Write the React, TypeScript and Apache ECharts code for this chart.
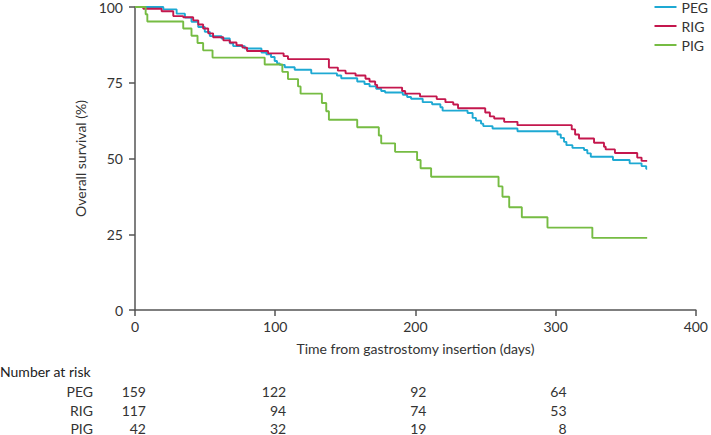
import React, { useEffect, useRef } from "react";
import * as echarts from "echarts";

const seriesNames = ["PEG", "RIG", "PIG"];
const seriesColors = ["#1ea9d3", "#c4174d", "#76bc43"];

const pegData: [number, number][] = [
  [0, 100], [20.2, 99.2], [29.7, 97.8], [35.6, 96.5], [40.3, 95.1], [45.1, 93.4],
  [49.8, 91.8], [53.4, 90.4], [61.7, 89.6], [67.6, 88.0], [70.0, 87.1], [78.3, 86.3],
  [90.2, 85.0], [93.7, 84.4], [97.0, 83.5], [99.6, 82.2], [101.3, 81.4], [103.2, 80.9],
  [106.8, 80.1], [113.9, 79.3], [125.7, 78.1], [144.0, 77.4], [147.1, 76.5], [158.5, 75.4],
  [163.7, 74.6], [167.3, 73.8], [172.0, 73.0], [175.6, 72.3], [178.4, 71.8], [191.0, 71.0],
  [194.1, 70.3], [196.9, 69.7], [205.2, 68.6], [211.9, 67.9], [217.8, 66.9], [219.4, 65.8],
  [237.2, 65.0], [240.8, 63.4], [243.2, 62.5], [246.8, 61.5], [248.4, 60.7], [255.0, 59.9],
  [272.8, 59.0], [301.3, 57.9], [303.7, 56.8], [306.0, 55.5], [307.7, 54.4], [312.0, 53.5],
  [320.3, 52.8], [322.6, 51.7], [325.1, 50.6], [340.9, 49.5], [352.8, 48.4], [361.3, 47.5],
  [364.6, 46.6], [365.3, 46.6],
];

const rigData: [number, number][] = [
  [0, 100], [5.9, 99.4], [19.0, 98.6], [27.3, 97.0], [34.4, 96.6], [41.5, 95.6],
  [45.1, 94.2], [48.6, 92.9], [52.2, 91.3], [55.7, 90.0], [63.0, 89.0], [67.6, 88.3],
  [72.4, 87.4], [76.6, 86.6], [79.9, 85.5], [94.9, 84.7], [106.0, 83.8], [109.1, 82.8],
  [138.3, 80.0], [144.7, 79.0], [150.2, 78.1], [157.3, 77.4], [164.4, 76.3], [167.3, 75.4],
  [171.3, 74.3], [172.7, 73.4], [190.5, 72.3], [192.7, 71.4], [203.3, 70.5], [215.2, 69.6],
  [221.4, 68.6], [227.0, 67.8], [230.4, 66.6], [249.8, 65.2], [253.1, 63.9], [256.2, 63.2],
  [263.3, 62.1], [272.8, 61.0], [311.5, 59.6], [313.9, 57.9], [316.7, 56.6], [327.4, 55.2],
  [334.5, 53.9], [335.7, 53.0], [342.3, 51.8], [358.2, 50.3], [361.3, 49.2], [365.3, 49.2],
];

const pigData: [number, number][] = [
  [0, 100], [7.6, 97.6], [8.8, 95.2], [34.4, 92.9], [40.3, 90.5], [44.6, 88.1],
  [48.6, 85.7], [55.3, 83.3], [92.5, 81.0], [105.1, 78.6], [109.1, 76.2], [116.3, 73.8],
  [118.1, 71.4], [133.3, 68.3], [136.4, 65.6], [138.3, 62.8], [158.5, 60.3], [173.9, 57.6],
  [175.6, 55.0], [185.5, 52.2], [201.2, 49.5], [203.7, 46.8], [211.2, 44.0], [259.3, 40.8],
  [262.1, 37.4], [266.9, 33.9], [275.9, 30.6], [294.2, 27.2], [326.2, 23.8], [365.3, 23.8],
];

const riskTimes = [0, 100, 200, 300];
const pegRisk = [159, 122, 92, 64];
const rigRisk = [117, 94, 74, 53];
const pigRisk = [42, 32, 19, 8];

const FONT = "Lato";
const FS = 14;
const TEXT = "#333333";
const AXIS = "#555555";

export default function App() {
  const ref = useRef<HTMLDivElement>(null);
  useEffect(() => {
    if (!ref.current) return;
    const chart = echarts.init(ref.current, undefined, { renderer: "svg" });
    const allData = [pegData, rigData, pigData];
    chart.setOption({
      animation: false,
      textStyle: { fontFamily: FONT },
      grid: { left: 135, right: 14, top: 5, bottom: 125, containLabel: false },
      legend: {
        orient: "vertical",
        right: -2,
        top: -5,
        padding: 5,
        icon: "rect",
        itemWidth: 22,
        itemHeight: 2,
        itemGap: 5,
        textStyle: { fontFamily: FONT, fontSize: FS, color: TEXT, lineHeight: 14 },
        data: seriesNames,
      },
      xAxis: {
        type: "value",
        min: 0,
        max: 400,
        interval: 100,
        name: "Time from gastrostomy insertion (days)",
        nameLocation: "middle",
        nameGap: 31,
        nameTextStyle: { fontFamily: FONT, fontSize: FS, color: TEXT },
        axisLine: { lineStyle: { color: AXIS, width: 1.5 } },
        axisTick: { show: true, length: 6, lineStyle: { color: AXIS, width: 1.5 } },
        axisLabel: { fontFamily: FONT, fontSize: FS, color: TEXT, margin: 9 },
        splitLine: { show: false },
      },
      yAxis: {
        type: "value",
        min: 0,
        max: 100,
        interval: 25,
        name: "Overall survival (%)",
        nameLocation: "middle",
        nameGap: 45,
        nameTextStyle: { fontFamily: FONT, fontSize: FS, color: TEXT },
        axisLine: { show: true, lineStyle: { color: AXIS, width: 1.5 } },
        axisTick: { show: true, length: 6, lineStyle: { color: AXIS, width: 1.5 } },
        axisLabel: { fontFamily: FONT, fontSize: FS, color: TEXT, margin: 12 },
        splitLine: { show: false },
      },
      series: seriesNames.map((n, i) => ({
        name: n,
        type: "line",
        step: "end",
        showSymbol: false,
        symbol: "none",
        data: allData[i],
        itemStyle: { color: seriesColors[i] },
        lineStyle: { color: seriesColors[i], width: 1.9 },
      })),
    });

    const rows: [string, number[]][] = [
      ["PEG", pegRisk],
      ["RIG", rigRisk],
      ["PIG", pigRisk],
    ];
    const rowY = [391, 410, 428];
    const graphics: any[] = [
      {
        type: "text",
        x: 0,
        y: 371,
        style: { text: "Number at risk", font: `${FS}px ${FONT}`, fill: "#222", textVerticalAlign: "middle" },
      },
    ];
    rows.forEach(([label, vals], r) => {
      graphics.push({
        type: "text",
        x: 93,
        y: rowY[r],
        style: { text: label, font: `${FS}px ${FONT}`, fill: TEXT, textAlign: "right", textVerticalAlign: "middle" },
      });
      vals.forEach((v, c) => {
        const px = chart.convertToPixel({ xAxisIndex: 0 }, riskTimes[c]) as number;
        graphics.push({
          type: "text",
          x: px + 11,
          y: rowY[r],
          style: { text: String(v), font: `${FS}px ${FONT}`, fill: TEXT, textAlign: "right", textVerticalAlign: "middle" },
        });
      });
    });
    chart.setOption({ graphic: graphics });
    return () => chart.dispose();
  }, []);
  return <div ref={ref} style={{ width: 711, height: 435, position: "absolute", left: 0, top: 0 }} />;
}
